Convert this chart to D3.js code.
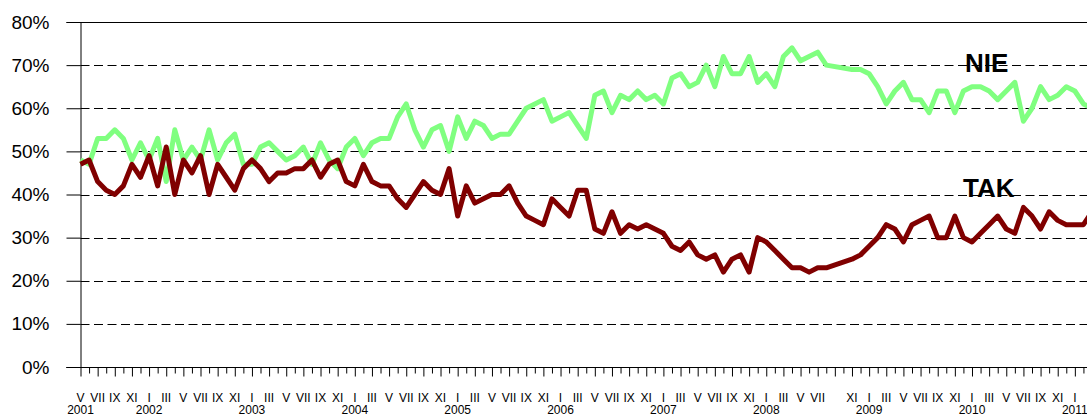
<!DOCTYPE html>
<html>
<head>
<meta charset="utf-8">
<script src="https://cdn.jsdelivr.net/npm/d3@7"></script>
<style>
  body { margin: 0; background: #fff; }
  svg { display: block; font-family: Arial, "Liberation Sans", sans-serif; }
</style>
</head>
<body>
<div id="chart"></div>
<script>
const width = 1087, height = 417;

// survey months, May 2001 .. Mar 2011
const romans = ["I", "II", "III", "IV", "V", "VI", "VII", "VIII", "IX", "X", "XI", "XII"];
const startYear = 2001, startMonth = 5, monthCount = 119;
const hiddenLabels = ["2008-9"]; // no label printed for IX 2008

const yTicks = [0, 10, 20, 30, 40, 50, 60, 70, 80];

// NIE (no) – % of answers
const nie = [
  48, 47, 53, 53, 55, 53, 48, 52, 48, 53, 43, 55, 48, 51, 48, 55, 48, 52, 54, 47,
  47, 51, 52, 50, 48, 49, 51, 47, 52, 48, 46, 51, 53,
  49, 52, 53, 53, 58, 61, 55, 51, 55, 56, 50, 58, 53, 57, 56, 53, 54, 54, 57, 60,
  61, 62, 57, 58, 59, 56, 53, 63, 64, 59, 63, 62, 64, 62, 63, 61, 67, 68, 65, 66,
  70, 65, 72, 68, 68, 72, 66, 68, 65, 72, 74, 71, 72, 73, 70,
  null, null,
  69, 69, 68, 65, 61, 64, 66, 62, 62, 59, 64, 64, 59, 64, 65, 65, 64, 62, 64, 66,
  57, 60, 65, 62, 63, 65, 64, 61, 60
];

// TAK (yes) – % of answers
const tak = [
  47, 48, 43, 41, 40, 42, 47, 44, 49, 42, 51, 40, 48, 45, 49, 40, 47, 44, 41, 46,
  48, 46, 43, 45, 45, 46, 46, 48, 44, 47, 48, 43, 42,
  47, 43, 42, 42, 39, 37, 40, 43, 41, 40, 46, 35, 42, 38, 39, 40, 40, 42, 38, 35,
  34, 33, 39, 37, 35, 41, 41, 32, 31, 36, 31, 33, 32, 33, 32, 31, 28, 27, 29, 26,
  25, 26, 22, 25, 26, 22, 30, 29, 27, 25, 23, 23, 22, 23, 23,
  null, null,
  25, 26, 28, 30, 33, 32, 29, 33, 34, 35, 30, 30, 35, 30, 29, 31, 33, 35, 32, 31,
  37, 35, 32, 36, 34, 33, 33, 33, 36
];

const months = d3.range(monthCount).map(i => {
  const m0 = startMonth - 1 + i;
  return { year: startYear + Math.floor(m0 / 12), month: (m0 % 12) + 1 };
});
const keyOf = d => d.year + "-" + d.month;
const keys = months.map(keyOf);

const svg = d3.select("#chart").append("svg")
  .attr("width", width)
  .attr("height", height);

const x = d3.scalePoint()
  .domain(keys)
  .range([80.5, 1092]);

const y = d3.scaleLinear()
  .domain([0, 80])
  .range([367, 22]);

const plotLeft = 80.5, plotRight = 1100;

// dashed grid lines
svg.append("g")
  .selectAll("line")
  .data(yTicks.filter(t => t > 0 && t < 80))
  .join("line")
  .attr("x1", plotLeft)
  .attr("x2", plotRight)
  .attr("y1", d => Math.round(y(d)) + 0.5)
  .attr("y2", d => Math.round(y(d)) + 0.5)
  .attr("stroke", "#000")
  .attr("stroke-width", 1)
  .attr("stroke-dasharray", "9,4.5");

// top border
svg.append("line")
  .attr("x1", plotLeft).attr("x2", plotRight)
  .attr("y1", Math.round(y(80)) + 0.5).attr("y2", Math.round(y(80)) + 0.5)
  .attr("stroke", "#000");

// y axis
const yAxis = svg.append("g")
  .attr("transform", `translate(${plotLeft},0)`)
  .call(d3.axisLeft(y).tickValues(yTicks).tickSize(14).tickPadding(17).tickFormat(d => d + "%"));
yAxis.select(".domain").attr("stroke", "#000");
yAxis.selectAll(".tick line").attr("stroke", "#000");
yAxis.selectAll("text")
  .attr("font-size", 19)
  .attr("fill", "#000")
  .attr("font-family", "Arial, 'Liberation Sans', sans-serif");

// x axis
const labelled = d => d.month % 2 === 1 && !hiddenLabels.includes(keyOf(d));
const xAxis = svg.append("g")
  .attr("transform", `translate(0,${Math.round(y(0)) + 0.5})`)
  .call(d3.axisBottom(x).tickSize(9).tickFormat(() => ""));
xAxis.select(".domain").attr("stroke", "#000").attr("d", `M${plotLeft - 14},0H${plotRight}`);
xAxis.selectAll(".tick line")
  .attr("stroke", "#000")
  .attr("y2", (k, i) => months[i].month % 2 === 1 ? 9 : 6);

// month labels
svg.append("g")
  .selectAll("text")
  .data(months.filter(labelled))
  .join("text")
  .attr("x", d => x(keyOf(d)))
  .attr("y", 402)
  .attr("text-anchor", "middle")
  .attr("font-size", 12)
  .attr("fill", "#000")
  .text(d => romans[d.month - 1]);

// year labels (under first labelled month of each year)
const yearStarts = months.filter((d, i) => i === 0 || d.month === 1);
svg.append("g")
  .selectAll("text")
  .data(yearStarts)
  .join("text")
  .attr("x", d => x(keyOf(d)))
  .attr("y", 414)
  .attr("text-anchor", "middle")
  .attr("font-size", 12)
  .attr("fill", "#000")
  .text(d => d.year);

// series lines (gaps bridged by straight segments)
const series = [
  { name: "NIE", values: nie, color: "#80ff80" },
  { name: "TAK", values: tak, color: "#800000" }
];

const line = d3.line()
  .x(d => x(d.key))
  .y(d => y(d.v));

svg.append("g")
  .selectAll("path")
  .data(series)
  .join("path")
  .attr("fill", "none")
  .attr("stroke", d => d.color)
  .attr("stroke-width", 5)
  .attr("stroke-linejoin", "round")
  .attr("d", s => line(s.values
    .map((v, i) => ({ key: keys[i], v }))
    .filter(p => p.v !== null)));

// series names
svg.append("text")
  .attr("x", 965).attr("y", 72)
  .attr("font-size", 26).attr("font-weight", "bold")
  .text("NIE");
svg.append("text")
  .attr("x", 963).attr("y", 197)
  .attr("font-size", 26).attr("font-weight", "bold")
  .text("TAK");
</script>
</body>
</html>
